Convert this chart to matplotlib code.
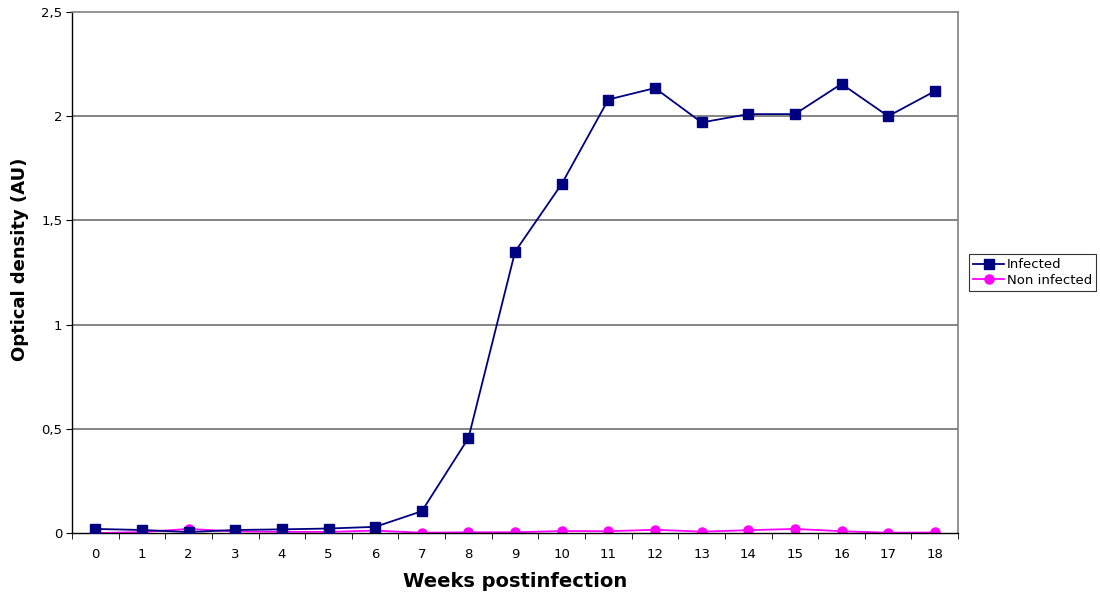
import matplotlib
matplotlib.use("Agg")
import matplotlib.pyplot as plt
import numpy as np

weeks = list(range(19))
infected = [0.020, 0.015, 0.005, 0.015, 0.018, 0.022, 0.030, 0.105, 0.456, 1.350,
            1.675, 2.080, 2.135, 1.970, 2.010, 2.010, 2.155, 2.000, 2.120]
non_infected = [0.000, 0.005, 0.020, 0.008, 0.006, 0.006, 0.012, 0.002, 0.004, 0.004,
                0.010, 0.009, 0.016, 0.007, 0.014, 0.020, 0.009, 0.002, 0.003]
y_ticks = [0, 0.5, 1, 1.5, 2, 2.5]
y_labels = ["0", "0,5", "1", "1,5", "2", "2,5"]

plt.rcParams["font.family"] = ["DejaVu Sans"]

fig = plt.figure(figsize=(11, 5.99), dpi=100)
ax = fig.add_axes([0.0655, 0.110, 0.8055, 0.870])

for y in y_ticks[1:-1]:
    ax.axhline(y, color="#707070", linewidth=1.2, zorder=1)

ax.plot(weeks, infected, color="#000080", linewidth=1.3, marker="s",
        markersize=6.5, label="Infected", zorder=3)
ax.plot(weeks, non_infected, color="#FF00FF", linewidth=1.3, marker="o",
        markersize=6.5, label="Non infected", zorder=2)

ax.set_xlim(-0.5, 18.5)
ax.set_ylim(0, 2.5)
ax.set_xticks(weeks)
ax.set_xticklabels([str(w) for w in weeks], fontsize=9.5)
ax.set_xticks(np.arange(-0.5, 19, 1), minor=True)
ax.tick_params(axis="x", which="major", length=0, pad=11)
ax.tick_params(axis="x", which="minor", length=4, direction="out", color="#000000")
ax.set_yticks(y_ticks)
ax.set_yticklabels(y_labels, fontsize=9.5)
ax.tick_params(axis="y", length=4, direction="out", pad=3)

for spine in ("top", "right"):
    ax.spines[spine].set_color("#808080")
    ax.spines[spine].set_linewidth(1.2)
for spine in ("left", "bottom"):
    ax.spines[spine].set_color("#000000")
    ax.spines[spine].set_linewidth(1.0)

ax.set_xlabel("Weeks postinfection", fontsize=14, fontweight="bold", labelpad=8)
ax.set_ylabel("Optical density (AU)", fontsize=13, fontweight="bold")
ax.yaxis.set_label_coords(-0.049, 0.525)

leg = ax.legend(loc="center left", bbox_to_anchor=(1.012, 0.50), fontsize=9.5,
                frameon=True, fancybox=False, edgecolor="#000000",
                handlelength=2.4, borderpad=0.3, labelspacing=0.2,
                handletextpad=0.2, borderaxespad=0)
leg.get_frame().set_linewidth(0.8)

fig.savefig("out.png", dpi=100, facecolor="white")
